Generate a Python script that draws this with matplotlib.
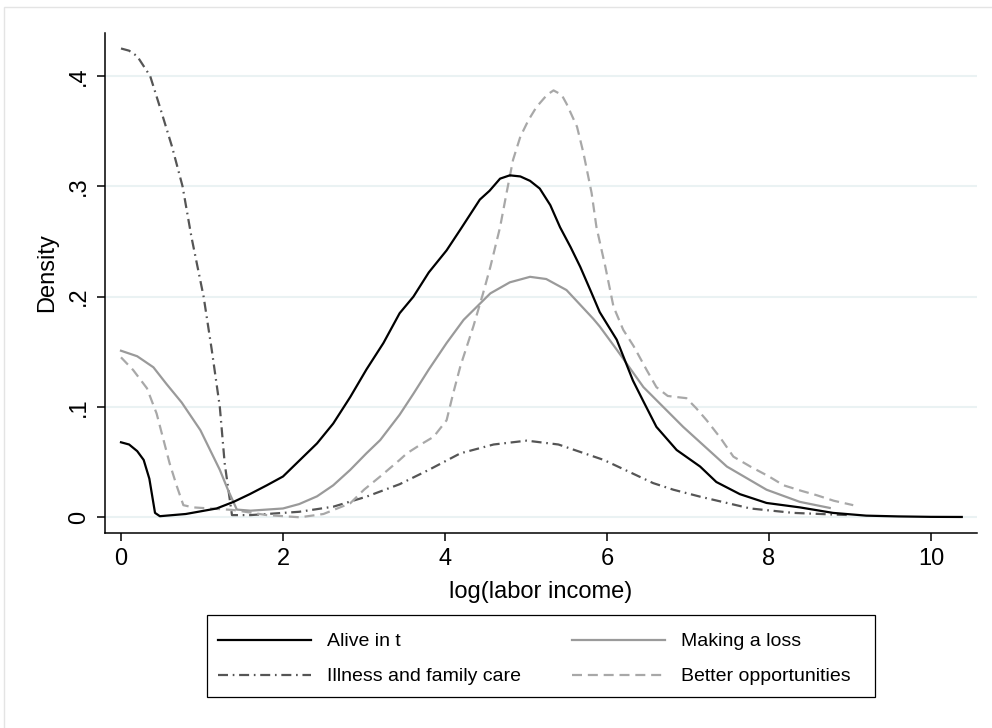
import matplotlib
matplotlib.use("Agg")
import matplotlib.pyplot as plt
from matplotlib.patches import Rectangle
from matplotlib.lines import Line2D

plt.rcParams['font.family'] = ['Liberation Sans', 'DejaVu Sans']
plt.rcParams['lines.scale_dashes'] = False

# --- data (kernel densities of log labor income) ---
alive_x = [0, 0.1, 0.2, 0.28, 0.35, 0.42, 0.48, 0.8, 1.18, 1.39,
           1.59, 1.8, 2.0, 2.21, 2.42, 2.62, 2.83, 3.03, 3.24, 3.44,
           3.61, 3.8, 4.02, 4.2, 4.43, 4.55, 4.68, 4.8, 4.93, 5.05,
           5.17, 5.3, 5.42, 5.55, 5.67, 5.8, 5.91, 6.12, 6.32, 6.45,
           6.61, 6.86, 7.15, 7.35, 7.64, 7.97, 8.38, 8.79, 9.2, 9.6,
           10.0, 10.38]
alive_y = [0.068, 0.066, 0.060, 0.052, 0.035, 0.004, 0.001, 0.003, 0.008, 0.014,
           0.021, 0.029, 0.037, 0.052, 0.067, 0.085, 0.109, 0.134, 0.158, 0.185,
           0.200, 0.222, 0.242, 0.262, 0.288, 0.296, 0.307, 0.310, 0.309, 0.305,
           0.298, 0.283, 0.263, 0.245, 0.227, 0.205, 0.186, 0.161, 0.124, 0.105,
           0.082, 0.061, 0.046, 0.032, 0.021, 0.013, 0.009, 0.004, 0.0015, 0.0008,
           0.0004, 0.0003]

loss_x = [0, 0.2, 0.4, 0.56, 0.75, 0.98, 1.1, 1.22, 1.32, 1.43,
          1.6, 1.8, 2.0, 2.2, 2.42, 2.62, 2.83, 3.03, 3.2, 3.44,
          3.61, 3.8, 4.02, 4.23, 4.56, 4.8, 5.05, 5.25, 5.5, 5.83,
          5.91, 6.12, 6.45, 6.94, 7.48, 7.97, 8.38, 8.75]
loss_y = [0.151, 0.146, 0.136, 0.121, 0.104, 0.079, 0.061, 0.043, 0.025, 0.007,
          0.006, 0.007, 0.008, 0.012, 0.019, 0.029, 0.043, 0.058, 0.070, 0.093,
          0.112, 0.134, 0.158, 0.179, 0.203, 0.213, 0.218, 0.216, 0.206, 0.180,
          0.173, 0.152, 0.118, 0.082, 0.046, 0.025, 0.014, 0.0085]

ill_x = [0, 0.1, 0.2, 0.36, 0.48, 0.63, 0.76, 0.87, 1.02, 1.12,
         1.22, 1.28, 1.37, 1.6, 1.8, 2.2, 2.62, 3.03, 3.44, 3.8,
         4.19, 4.6, 5.01, 5.4, 5.96, 6.57, 6.82, 7.15, 7.77, 8.3,
         8.8, 9.0]
ill_y = [0.425, 0.423, 0.418, 0.400, 0.372, 0.336, 0.300, 0.254, 0.200, 0.152,
         0.100, 0.049, 0.002, 0.002, 0.003, 0.005, 0.0096, 0.0187, 0.030, 0.043,
         0.058, 0.066, 0.0695, 0.066, 0.052, 0.031, 0.025, 0.0187, 0.008, 0.004,
         0.0025, 0.002]

better_x = [0, 0.15, 0.32, 0.44, 0.6, 0.69, 0.77, 0.89, 1.39, 1.8,
            2.21, 2.5, 2.83, 3.0, 3.2, 3.44, 3.53, 3.7, 3.86, 4.02,
            4.1, 4.19, 4.35, 4.47, 4.56, 4.68, 4.76, 4.84, 4.93, 5.03,
            5.13, 5.26, 5.34, 5.44, 5.5, 5.63, 5.71, 5.81, 5.87, 5.98,
            6.08, 6.2, 6.33, 6.49, 6.61, 6.75, 6.86, 6.98, 7.1, 7.23,
            7.4, 7.56, 7.77, 8.0, 8.18, 8.4, 8.59, 8.8, 9.04]
better_y = [0.145, 0.1335, 0.117, 0.094, 0.049, 0.028, 0.011, 0.009, 0.0066, 0.002,
            0.0, 0.003, 0.0127, 0.025, 0.037, 0.052, 0.058, 0.066, 0.073, 0.088,
            0.112, 0.137, 0.173, 0.203, 0.227, 0.263, 0.294, 0.324, 0.345, 0.360,
            0.372, 0.383, 0.387, 0.383, 0.375, 0.354, 0.330, 0.294, 0.263, 0.227,
            0.191, 0.170, 0.155, 0.1335, 0.118, 0.110, 0.109, 0.108, 0.099, 0.088,
            0.072, 0.055, 0.046, 0.037, 0.029, 0.024, 0.020, 0.015, 0.011]

labels = ["Alive in t", "Making a loss", "Illness and family care", "Better opportunities"]
y_ticks = [0, 0.1, 0.2, 0.3, 0.4]
y_ticklabels = ["0", ".1", ".2", ".3", ".4"]
x_ticks = [0, 2, 4, 6, 8, 10]

# styles
c_alive, c_loss, c_ill, c_better = "#000000", "#9a9a9a", "#555555", "#a8a8a8"
ls_ill = (0, (7.2, 3.4, 1.2, 3.4))
ls_better = (0, (7.2, 4.2))
lw = 1.6

fig = plt.figure(figsize=(9.92, 7.28), dpi=100)
fig.patches.append(Rectangle((4 / 992, -0.01), 1.0, 1 - 7 / 728 + 0.01,
                             transform=fig.transFigure, fill=False,
                             edgecolor="#e4e4e4", lw=1.0))

ax = fig.add_axes([105 / 992, 1 - 532.7 / 728, (977 - 105) / 992, 500 / 728])

ax.plot(ill_x, ill_y, color=c_ill, lw=lw, linestyle=ls_ill, zorder=3)
ax.plot(better_x, better_y, color=c_better, lw=lw, linestyle=ls_better, zorder=3)
ax.plot(loss_x, loss_y, color=c_loss, lw=lw, zorder=4)
ax.plot(alive_x, alive_y, color=c_alive, lw=lw, zorder=5)

ax.set_xlim(-0.1975, 10.568)
ax.set_ylim(-0.01396, 0.4393)

ax.set_yticks(y_ticks)
ax.set_yticklabels(y_ticklabels, rotation=90, va="center")
ax.set_xticks(x_ticks)
ax.tick_params(axis="both", labelsize=17, length=6, width=1.1, color="black")
ax.tick_params(axis="y", pad=5)
ax.tick_params(axis="x", pad=5)

ax.grid(axis="y", color="#eaf2f3", lw=1.5, zorder=0)
ax.set_axisbelow(True)
for s in ["top", "right"]:
    ax.spines[s].set_visible(False)
for s in ["left", "bottom"]:
    ax.spines[s].set_linewidth(1.1)

ax.set_xlabel("log(labor income)", fontsize=17, labelpad=8)
ax.set_ylabel("Density", fontsize=17)
ax.yaxis.set_label_coords(-0.054, 0.52)

# legend fills column by column, so order as: col 1 rows, then col 2 rows
h_alive = Line2D([], [], color=c_alive, lw=lw)
h_loss = Line2D([], [], color=c_loss, lw=lw)
h_ill = Line2D([], [], color=c_ill, lw=lw, linestyle=ls_ill)
h_better = Line2D([], [], color=c_better, lw=lw, linestyle=ls_better)
leg = fig.legend([h_alive, h_ill, h_loss, h_better],
                 [labels[0], labels[2], labels[1], labels[3]],
                 ncol=2, loc="upper left",
                 bbox_to_anchor=(207 / 992, 1 - 622 / 728),
                 frameon=False, fontsize=14, handlelength=4.8, handletextpad=0.8,
                 columnspacing=2.65, labelspacing=0.9, borderpad=0.55,
                 borderaxespad=0)
fig.patches.append(Rectangle((207 / 992, 1 - 697 / 728), (875 - 207) / 992, 82 / 728,
                             transform=fig.transFigure, fill=False,
                             edgecolor="black", lw=0.9))

fig.savefig("out.png", dpi=100)
